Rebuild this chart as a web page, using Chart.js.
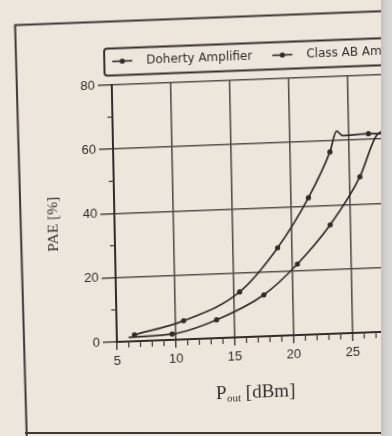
<!DOCTYPE html>
<html><head><meta charset="utf-8">
<script src="https://cdn.jsdelivr.net/npm/chart.js@4.4.1/dist/chart.umd.min.js"></script>
<style>
html,body{margin:0;padding:0;background:#ece6dd;width:392px;height:436px;overflow:hidden;}
#wrap{position:relative;width:392px;height:436px;}
#c{position:absolute;left:0;top:0;transform-origin:117px 342px;transform:matrix(1,-0.038,0.02,1,0,0);}
#gutter{position:absolute;left:381px;top:0;width:11px;height:436px;background:linear-gradient(to right,#c2c1bf,#d2d1cf 40%,#d8d7d5);}
#bottomrule{position:absolute;left:25px;top:432px;width:356px;height:2px;background:#3d3935;}
</style></head>
<body><div id="wrap"><canvas id="c" width="392" height="436"></canvas><div id="bottomrule"></div><div id="gutter"></div></div>
<script>
// ---- data ----
const seriesLabels = ['Doherty Amplifier', 'Class AB Amplifier'];
const dohertyPout   = [6.5, 10.7, 15.5, 18.8, 21.5, 23.4, 24.0, 24.5, 26.7, 28.2];
const dohertyPAE    = [2.0, 5.8, 14.1, 27.4, 42.6, 56.6, 63.0, 61.5, 61.8, 61.6];
const dohertyMarked = [true, true, true, true, true, true, false, false, true, false];
const classABPout   = [6.0, 9.7, 13.5, 17.55, 20.45, 23.3, 25.9, 27.35, 28.3];
const classABPAE    = [1.3, 1.8, 5.7, 12.9, 22.1, 33.9, 48.5, 61.0, 63.0];
const classABMarked = [false, true, true, true, true, true, true, false, false];
const xMinorTicks = [6, 7, 8, 9, 11, 12, 13, 14, 16, 17, 18, 19, 21, 22, 23, 24, 26, 27];
const yMinorTicks = [10, 30, 50, 70];
const xTitleMain = 'P', xTitleSub = 'out', xTitleUnit = ' [dBm]';
const yTitle = 'PAE [%]';

const ink = '#302c29';
const toPts = (xs, ys) => xs.map((x, i) => ({x: x, y: ys[i]}));

const pageDecor = {
  id: 'pageDecor',
  beforeDraw(chart) {
    const c = chart.ctx;
    c.save();
    c.fillStyle = '#ece6dd';
    c.fillRect(-20, -20, chart.width + 40, chart.height + 40);
    c.strokeStyle = '#3d3935'; c.lineWidth = 2;
    c.beginPath(); c.moveTo(400, 21.5); c.lineTo(21.5, 21.5); c.lineTo(25, 440); c.stroke();
    c.restore();
  },
  afterDraw(chart) {
    const c = chart.ctx, xs = chart.scales.x, ys = chart.scales.y;
    c.save();
    // minor ticks
    c.strokeStyle = '#4a4540'; c.lineWidth = 1.3;
    const y0 = ys.getPixelForValue(0), x0 = xs.getPixelForValue(5);
    xMinorTicks.forEach(v => { const p = xs.getPixelForValue(v); c.beginPath(); c.moveTo(p, y0); c.lineTo(p, y0 + 6); c.stroke(); });
    yMinorTicks.forEach(v => { const p = ys.getPixelForValue(v); c.beginPath(); c.moveTo(x0 - 5, p); c.lineTo(x0, p); c.stroke(); });
    // axis titles
    c.fillStyle = '#35312d';
    c.textBaseline = 'middle';
    c.save();
    c.translate(55.5, 222); c.rotate(-Math.PI / 2);
    c.textAlign = 'center'; c.font = '15.5px "Liberation Serif"';
    c.fillText(yTitle, 0, 0);
    c.restore();
    c.textAlign = 'left';
    let tx = 215; const ty = 398;
    c.font = '19px "Liberation Serif"'; c.fillText(xTitleMain, tx, ty); tx += c.measureText(xTitleMain).width + 0.5;
    c.font = '11px "Liberation Serif"'; c.fillText(xTitleSub, tx, ty + 5); tx += c.measureText(xTitleSub).width;
    c.font = '19px "Liberation Serif"'; c.fillText(xTitleUnit, tx, ty);
    // legend
    c.strokeStyle = '#35312d'; c.lineWidth = 2;
    c.beginPath(); c.roundRect(110, 48.5, 300, 27, 3); c.stroke();
    c.font = '12px "DejaVu Sans"'; c.fillStyle = ink;
    let lx = 118; const ly = 61.5;
    chart.data.datasets.forEach(ds => {
      c.strokeStyle = ink; c.lineWidth = 1.6;
      c.beginPath(); c.moveTo(lx, ly); c.lineTo(lx + 20, ly); c.stroke();
      c.beginPath(); c.arc(lx + 10, ly, 2.6, 0, Math.PI * 2); c.fill();
      lx += 34;
      c.fillText(ds.label, lx, ly);
      lx += c.measureText(ds.label).width + 20;
    });
    c.restore();
  }
};

const markerRadius = flags => ctx => (flags[ctx.dataIndex] ? 2.6 : 0);
const tickFont = {family: '"Liberation Sans"', size: 13};

new Chart(document.getElementById('c'), {
  type: 'line',
  data: {
    datasets: [
      {label: seriesLabels[0], data: toPts(dohertyPout, dohertyPAE), pointRadius: markerRadius(dohertyMarked)},
      {label: seriesLabels[1], data: toPts(classABPout, classABPAE), pointRadius: markerRadius(classABMarked)}
    ].map(d => Object.assign(d, {
      borderColor: ink, backgroundColor: ink, pointBackgroundColor: ink, pointBorderColor: ink,
      borderWidth: 1.7, pointBorderWidth: 0, cubicInterpolationMode: 'monotone', fill: false
    }))
  },
  options: {
    responsive: false, devicePixelRatio: 1, animation: false,
    layout: {padding: {left: 0, top: 85, right: 0, bottom: 0}},
    plugins: {legend: {display: false}, tooltip: {enabled: false}},
    scales: {
      x: {
        type: 'linear', min: 5, max: 28,
        ticks: {stepSize: 5, includeBounds: false, padding: 4, font: tickFont, color: ink, maxRotation: 0},
        grid: {color: '#55504b', lineWidth: 1.6, tickLength: 8},
        border: {color: '#302c29', width: 2},
        afterFit(s) { s.height = 94; }
      },
      y: {
        type: 'linear', min: 0, max: 80,
        ticks: {stepSize: 20, padding: 3, font: tickFont, color: ink},
        grid: {color: '#55504b', lineWidth: 1.6, tickLength: 14},
        border: {color: '#302c29', width: 2},
        afterFit(s) { s.width = 117; }
      }
    }
  },
  plugins: [pageDecor]
});
</script></body></html>
